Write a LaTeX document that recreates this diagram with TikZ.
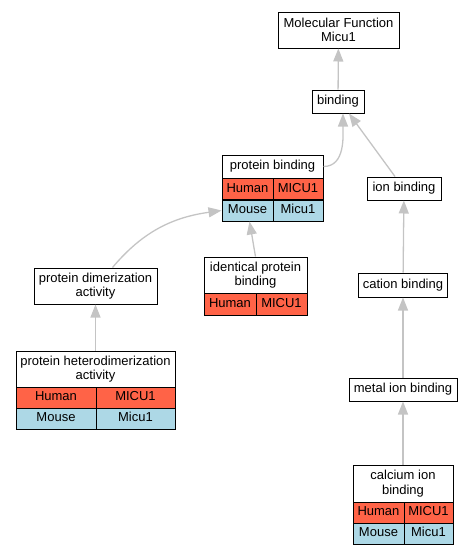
\documentclass[tikz,border=0pt]{standalone}
\usepackage{fontspec}
\setmainfont{Liberation Sans}
\usepackage{xcolor}
\usetikzlibrary{arrows.meta,positioning}
\definecolor{humanred}{HTML}{FF6347}
\definecolor{mouseblue}{HTML}{ADD8E6}
\definecolor{edgegray}{RGB}{196,196,196}
\tikzset
{
  termbox/.style   = {rectangle, draw=black, line width=1pt, fill=white, align=center, inner sep=0pt, font=\fontsize{13}{14.5}\selectfont},
  cellbox/.style   = {termbox, minimum height=21, text height=9.5pt, text depth=2.8pt},
  humancell/.style = {cellbox, fill=humanred},
  mousecell/.style = {cellbox, fill=mouseblue},
  isa/.style       = {draw=edgegray, line width=1.3pt, -{Triangle[length=13pt,width=10pt]}, edgegray}
}

\begin{document}
\begin{tikzpicture}[x=1pt,y=-1pt]
            \useasboundingbox (0,0) rectangle (472,555);
            \node [termbox, minimum width=121, minimum height=36] (mf) at (338.5,30) {Molecular Function\\Micu1};
            \node [cellbox, minimum width=52, minimum height=23] (bind) at (338,101.5) {binding};
            \node [termbox, minimum width=101, minimum height=23, text height=9.5pt, text depth=2.8pt] (pb) at (272.5,166.5) {protein binding};
            \node [humancell, minimum width=51] (pb-h) at (247.5,189) {Human};
            \node [humancell, minimum width=50] (pb-hg) at (298,189) {MICU1};
            \node [mousecell, minimum width=51] (pb-m) at (247.5,210.5) {Mouse};
            \node [mousecell, minimum width=50] (pb-mg) at (298,210.5) {Micu1};
            \node [cellbox, minimum width=74, minimum height=23] (ionb) at (404,188.5) {ion binding};
            \node [termbox, minimum width=123, minimum height=36] (pda) at (95.5,286) {protein dimerization\\activity};
            \node [termbox, minimum width=103, minimum height=36] (ipb) at (255.5,275) {identical protein\\binding};
            \node [humancell, minimum width=52, minimum height=22] (ipb-h) at (230,304) {Human};
            \node [humancell, minimum width=51, minimum height=22] (ipb-hg) at (281.5,304) {MICU1};
            \node [termbox, minimum width=159, minimum height=36] (phda) at (95.5,369) {protein heterodimerization\\activity};
            \node [humancell, minimum width=80] (phda-h) at (56,397.5) {Human};
            \node [humancell, minimum width=79] (phda-hg) at (135.5,397.5) {MICU1};
            \node [mousecell, minimum width=80] (phda-m) at (56,418.5) {Mouse};
            \node [mousecell, minimum width=79] (phda-mg) at (135.5,418.5) {Micu1};
            \node [cellbox, minimum width=89, minimum height=24] (catb) at (403,285) {cation binding};
            \node [cellbox, minimum width=108, minimum height=23] (mib) at (403,389.5) {metal ion binding};
            \node [termbox, minimum width=100, minimum height=37] (cib) at (403,483.5) {calcium ion\\binding};
            \node [humancell, minimum width=51] (cib-h) at (378.5,512.5) {Human};
            \node [humancell, minimum width=49] (cib-hg) at (428.5,512.5) {MICU1};
            \node [mousecell, minimum width=51] (cib-m) at (378.5,533.5) {Mouse};
            \node [mousecell, minimum width=49] (cib-mg) at (428.5,533.5) {Micu1};

            \draw [isa] (bind) -- (mf);
            \draw [isa] (pb.east) to[out=0,in=-90] ([xshift=5]bind.south);
            \draw [isa] ([xshift=-9]ionb.north) -- ([xshift=11]bind.south);
            \draw [isa] (catb) -- (ionb);
            \draw [isa] (mib) -- (catb);
            \draw [isa] (cib) -- (mib);
            \draw [isa] ([xshift=17]pda.north) to[out=50,in=188] (pb-m.west);
            \draw [isa] (ipb.north) to[out=100,in=-80] ([xshift=2]pb-m.south);
            \draw [isa] (phda) -- (pda);
          \end{tikzpicture}
\end{document}
